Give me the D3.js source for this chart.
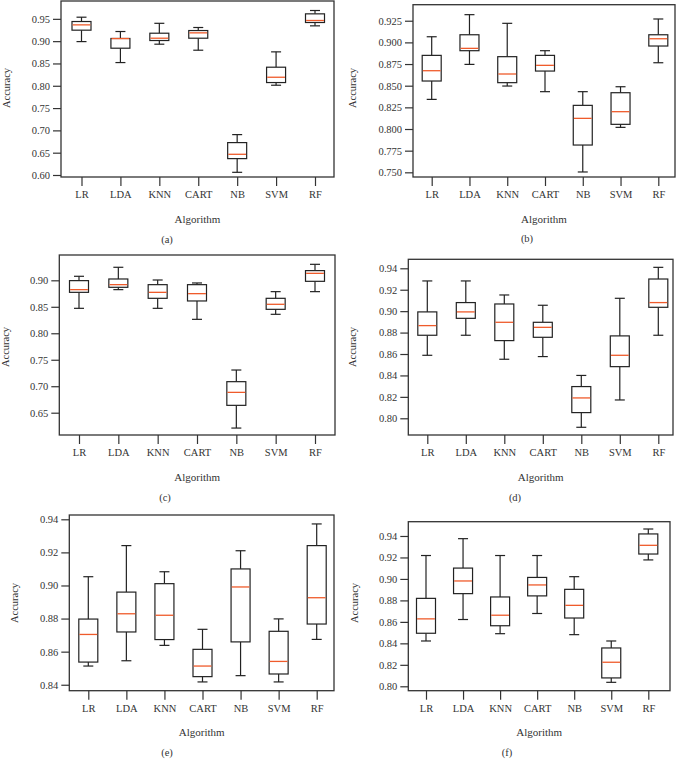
<!DOCTYPE html>
<html>
<head>
<meta charset="utf-8">
<script src="https://cdn.jsdelivr.net/npm/d3@7"></script>
<style>
  body { margin: 0; background: #fff; }
  svg text { font-family: "Liberation Serif", "DejaVu Serif", serif; fill: #333; }
</style>
</head>
<body>
<div id="chart"></div>
<script>
// algorithms on the x axis
const algorithms = ['LR', 'LDA', 'KNN', 'CART', 'NB', 'SVM', 'RF'];

// box stats per algorithm: [low whisker, Q1, median, Q3, high whisker]
const boxesA = [
  [0.899, 0.9246, 0.9365, 0.944, 0.9537],
  [0.852, 0.8842, 0.9058, 0.906, 0.9216],
  [0.8932, 0.9014, 0.9066, 0.9178, 0.940],
  [0.8797, 0.9066, 0.9186, 0.9238, 0.9306],
  [0.606, 0.6367, 0.6464, 0.6726, 0.6905],
  [0.8012, 0.8072, 0.8191, 0.8416, 0.876],
  [0.9343, 0.9418, 0.9463, 0.9612, 0.9687]
];
const boxesB = [
  [0.8342, 0.8554, 0.8673, 0.885, 0.9065],
  [0.8746, 0.8904, 0.8931, 0.9088, 0.932],
  [0.8496, 0.8535, 0.8635, 0.8835, 0.922],
  [0.8431, 0.8669, 0.8735, 0.885, 0.8904],
  [0.7504, 0.7815, 0.8123, 0.8273, 0.8431],
  [0.8019, 0.8054, 0.820, 0.8419, 0.8488],
  [0.8765, 0.8958, 0.9042, 0.9088, 0.927]
];
const boxesC = [
  [0.8471, 0.8773, 0.8824, 0.8994, 0.9076],
  [0.8824, 0.8868, 0.8918, 0.9025, 0.9246],
  [0.8471, 0.866, 0.8773, 0.8918, 0.9006],
  [0.8263, 0.861, 0.8748, 0.8918, 0.895],
  [0.621, 0.6639, 0.6884, 0.7086, 0.7306],
  [0.8358, 0.8452, 0.8547, 0.866, 0.8786],
  [0.8786, 0.8981, 0.9132, 0.9183, 0.9302]
];
const boxesD = [
  [0.8588, 0.8775, 0.8865, 0.8993, 0.9282],
  [0.8775, 0.8933, 0.8993, 0.908, 0.9282],
  [0.8551, 0.8725, 0.8896, 0.9067, 0.9151],
  [0.8576, 0.8756, 0.8849, 0.8896, 0.9055],
  [0.7916, 0.8053, 0.819, 0.8296, 0.84],
  [0.8171, 0.8482, 0.8588, 0.8769, 0.912],
  [0.8775, 0.9036, 0.908, 0.93, 0.9409]
];
const boxesE = [
  [0.8513, 0.8537, 0.8704, 0.8797, 0.9053],
  [0.8545, 0.8719, 0.8829, 0.896, 0.9241],
  [0.8638, 0.8673, 0.882, 0.9011, 0.9083],
  [0.8417, 0.8449, 0.8513, 0.8614, 0.8735],
  [0.8455, 0.8659, 0.8991, 0.910, 0.921],
  [0.8417, 0.8465, 0.8541, 0.8723, 0.8798],
  [0.8674, 0.8767, 0.8926, 0.9241, 0.9372]
];
const boxesF = [
  [0.8422, 0.8494, 0.8628, 0.8819, 0.9218],
  [0.8622, 0.8863, 0.8981, 0.9101, 0.9375],
  [0.849, 0.8564, 0.8662, 0.8832, 0.9218],
  [0.8678, 0.8842, 0.8944, 0.9014, 0.9218],
  [0.8481, 0.8636, 0.8754, 0.8903, 0.9021],
  [0.8037, 0.8078, 0.8224, 0.8357, 0.8422],
  [0.9177, 0.9232, 0.9313, 0.9419, 0.9465]
];

// y tick values per panel
const ticksA = [0.60, 0.65, 0.70, 0.75, 0.80, 0.85, 0.90, 0.95];
const ticksB = [0.750, 0.775, 0.800, 0.825, 0.850, 0.875, 0.900, 0.925];
const ticksC = [0.65, 0.70, 0.75, 0.80, 0.85, 0.90];
const ticksD = [0.80, 0.82, 0.84, 0.86, 0.88, 0.90, 0.92, 0.94];
const ticksE = [0.84, 0.86, 0.88, 0.90, 0.92, 0.94];
const ticksF = [0.80, 0.82, 0.84, 0.86, 0.88, 0.90, 0.92, 0.94];

const panelLabels = ['(a)', '(b)', '(c)', '(d)', '(e)', '(f)'];

// layout of each panel (pixels): frame box, first/last category x, y domain shown
const panels = [
  { boxes: boxesA, ticks: ticksA, fmt: '.2f', frame: [61, 334, 1, 177], px: [81.5, 315], dom: [0.5955, 0.990],
    labY: 195, titleY: 220, tagX: 167, tagY: 241, accX: 8, accY: 88 },
  { boxes: boxesB, ticks: ticksB, fmt: '.3f', frame: [413, 675, 4.7, 177], px: [431.7, 658.3], dom: [0.7446, 0.9435],
    labY: 195, titleY: 220, tagX: 527, tagY: 240, accX: 354, accY: 88 },
  { boxes: boxesC, ticks: ticksC, fmt: '.2f', frame: [59.3, 335, 255, 435], px: [79, 315], dom: [0.6079, 0.9478],
    labY: 452.7, titleY: 478, tagX: 165, tagY: 499, accX: 7, accY: 347 },
  { boxes: boxesD, ticks: ticksD, fmt: '.2f', frame: [408.3, 673, 259.3, 435], px: [427.3, 658.3], dom: [0.7844, 0.9484],
    labY: 452.7, titleY: 478, tagX: 515, tagY: 499, accX: 354, accY: 347 },
  { boxes: boxesE, ticks: ticksE, fmt: '.2f', frame: [69.3, 334, 515, 690.7], px: [88.3, 316.7], dom: [0.8364, 0.9426],
    labY: 709, titleY: 733.5, tagX: 167, tagY: 754, accX: 16, accY: 603 },
  { boxes: boxesF, ticks: ticksF, fmt: '.2f', frame: [408.3, 670, 521.7, 690.7], px: [426, 648.3], dom: [0.7959, 0.9533],
    labY: 709, titleY: 733.5, tagX: 507, tagY: 754, accX: 356, accY: 603 }
];

const svg = d3.select('#chart').append('svg')
  .attr('width', 679)
  .attr('height', 759);

const boxW = 19, capW = 10;
const medianColor = '#ef5b2b';

panels.forEach((p, i) => {
  const [x0, x1, y0, y1] = p.frame;
  const x = d3.scalePoint().domain(algorithms).range(p.px);
  const y = d3.scaleLinear().domain(p.dom).range([y1, y0]);
  const g = svg.append('g');

  // y axis
  const yAxis = g.append('g')
    .attr('transform', 'translate(' + x0 + ',0)')
    .call(d3.axisLeft(y).tickValues(p.ticks).tickFormat(d3.format(p.fmt)).tickSize(8).tickPadding(3));
  // x axis
  const xAxis = g.append('g')
    .attr('transform', 'translate(0,' + y1 + ')')
    .call(d3.axisBottom(x).tickSize(9).tickPadding(5));
  [yAxis, xAxis].forEach(a => {
    a.select('.domain').remove();
    a.selectAll('.tick line').attr('stroke', '#333').attr('stroke-width', 1.2);
    a.selectAll('.tick text').attr('font-size', 10.5).attr('fill', '#333')
      .attr('font-family', '"Liberation Serif", "DejaVu Serif", serif');
  });

  // frame
  g.append('rect')
    .attr('x', x0).attr('y', y0)
    .attr('width', x1 - x0).attr('height', y1 - y0)
    .attr('fill', 'none').attr('stroke', '#333').attr('stroke-width', 1.3);

  // boxes
  const box = g.selectAll('g.box').data(p.boxes).enter().append('g')
    .attr('class', 'box')
    .attr('transform', (d, j) => 'translate(' + x(algorithms[j]) + ',0)');
  box.append('line')
    .attr('x1', 0).attr('x2', 0)
    .attr('y1', d => y(d[4])).attr('y2', d => y(d[3]))
    .attr('stroke', '#222').attr('stroke-width', 1.2);
  box.append('line')
    .attr('x1', 0).attr('x2', 0)
    .attr('y1', d => y(d[1])).attr('y2', d => y(d[0]))
    .attr('stroke', '#222').attr('stroke-width', 1.2);
  box.append('line')
    .attr('x1', -capW / 2).attr('x2', capW / 2)
    .attr('y1', d => y(d[4])).attr('y2', d => y(d[4]))
    .attr('stroke', '#222').attr('stroke-width', 1.2);
  box.append('line')
    .attr('x1', -capW / 2).attr('x2', capW / 2)
    .attr('y1', d => y(d[0])).attr('y2', d => y(d[0]))
    .attr('stroke', '#222').attr('stroke-width', 1.2);
  box.append('rect')
    .attr('x', -boxW / 2).attr('width', boxW)
    .attr('y', d => y(d[3])).attr('height', d => y(d[1]) - y(d[3]))
    .attr('fill', '#fff').attr('stroke', '#222').attr('stroke-width', 1.2);
  box.append('line')
    .attr('x1', -boxW / 2 + 0.6).attr('x2', boxW / 2 - 0.6)
    .attr('y1', d => y(d[2])).attr('y2', d => y(d[2]))
    .attr('stroke', medianColor).attr('stroke-width', 1.3);

  // titles
  g.append('text')
    .attr('x', (x0 + x1) / 2).attr('y', p.titleY)
    .attr('text-anchor', 'middle').attr('dominant-baseline', 'middle')
    .attr('font-size', 11).text('Algorithm');
  g.append('text')
    .attr('transform', 'translate(' + p.accX + ',' + p.accY + ') rotate(-90)')
    .attr('text-anchor', 'middle').attr('dominant-baseline', 'middle')
    .attr('font-size', 10.5).text('Accuracy');
  g.append('text')
    .attr('x', p.tagX).attr('y', p.tagY)
    .attr('text-anchor', 'middle').attr('dominant-baseline', 'middle')
    .attr('font-size', 10.5).text(panelLabels[i]);
});
</script>
</body>
</html>
